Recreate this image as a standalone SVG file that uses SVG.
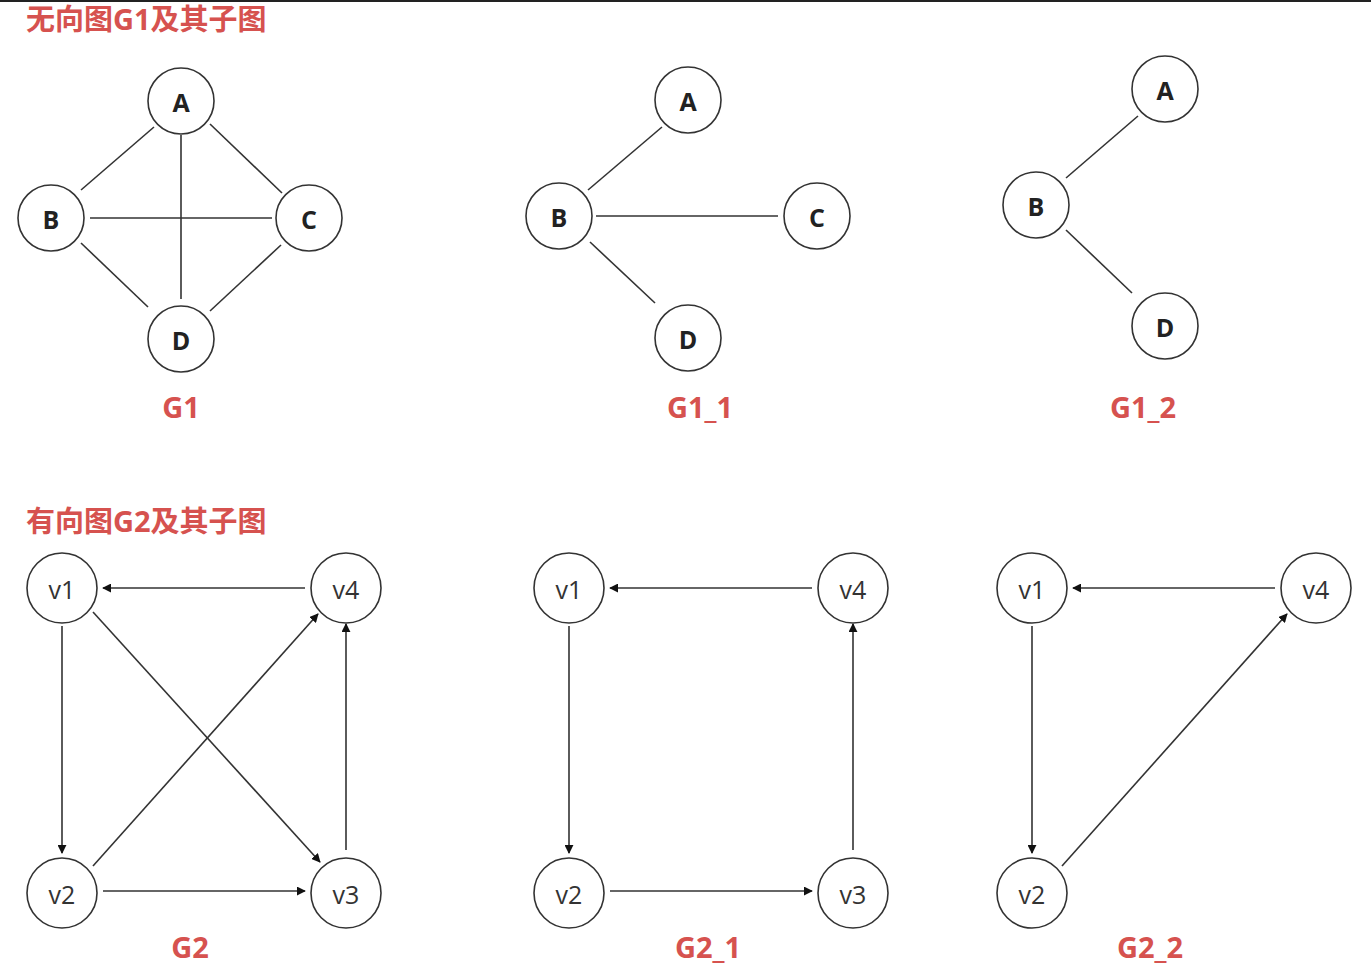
<svg xmlns="http://www.w3.org/2000/svg" width="1371" height="969" viewBox="0 0 1371 969">
<defs>
<style>
.n{fill:#fff;stroke:#333;stroke-width:1.6}
.e{stroke:#333;stroke-width:1.6;fill:none}
.a{stroke:#333;stroke-width:1.6;fill:none;marker-end:url(#ah)}
.t1{font-family:"Open Sans","Liberation Sans",sans-serif;font-weight:bold;font-size:25px;fill:#222;text-anchor:middle;dominant-baseline:central}
.t2{font-family:"Open Sans","Liberation Sans",sans-serif;font-size:25px;fill:#333;text-anchor:middle;dominant-baseline:central}
.lb{font-family:"Open Sans","Liberation Sans",sans-serif;font-weight:bold;font-size:29px;fill:#d6524f;text-anchor:middle}
.tt{font-family:"Open Sans","Noto Sans CJK SC",sans-serif;font-weight:bold;font-size:29px;fill:#d6524f}
</style>
<marker id="ah" viewBox="0 0 10 10" refX="9" refY="5" markerWidth="9" markerHeight="9" markerUnits="userSpaceOnUse" orient="auto">
<path d="M0,0 L10,5 L0,10 z" fill="#111"/>
</marker>
</defs>
<rect width="1371" height="969" fill="#fff"/>
<rect x="0" y="0" width="1371" height="2" fill="#222"/>
<text class="tt" x="26" y="30">无向图G1及其子图</text>
<text class="tt" x="26" y="532">有向图G2及其子图</text>
<g id="connectors">
<!-- G1 -->
<line class="e" x1="81" y1="190" x2="154" y2="127"/>
<line class="e" x1="210" y1="124" x2="282" y2="193"/>
<line class="e" x1="181" y1="135" x2="181" y2="299"/>
<line class="e" x1="90" y1="218" x2="272" y2="218"/>
<line class="e" x1="81" y1="243" x2="148" y2="307"/>
<line class="e" x1="281" y1="245" x2="210" y2="311"/>
<!-- G1_1 -->
<line class="e" x1="588" y1="190" x2="662" y2="127"/>
<line class="e" x1="596" y1="216" x2="778" y2="216"/>
<line class="e" x1="590" y1="242" x2="655" y2="303"/>
<!-- G1_2 -->
<line class="e" x1="1066" y1="178" x2="1138" y2="116"/>
<line class="e" x1="1066" y1="230" x2="1132" y2="293"/>
<!-- G2 -->
<line class="a" x1="305" y1="588" x2="103" y2="588"/>
<line class="a" x1="62" y1="626" x2="62" y2="853"/>
<line class="a" x1="93" y1="612" x2="320" y2="862"/>
<line class="a" x1="93" y1="866" x2="318" y2="614"/>
<line class="a" x1="103" y1="891" x2="305" y2="891"/>
<line class="a" x1="346" y1="850" x2="346" y2="624"/>
<!-- G2_1 -->
<line class="a" x1="812" y1="588" x2="610" y2="588"/>
<line class="a" x1="569" y1="626" x2="569" y2="853"/>
<line class="a" x1="610" y1="891" x2="812" y2="891"/>
<line class="a" x1="853" y1="850" x2="853" y2="624"/>
<!-- G2_2 -->
<line class="a" x1="1275" y1="588" x2="1073" y2="588"/>
<line class="a" x1="1032" y1="626" x2="1032" y2="853"/>
<line class="a" x1="1062" y1="866" x2="1287" y2="614"/>
</g>
<!-- G1 nodes -->
<g id="g1-A"><circle class="n" cx="181" cy="101" r="33"/><text class="t1" x="181" y="102">A</text></g>
<g id="g1-B"><circle class="n" cx="51" cy="218" r="33"/><text class="t1" x="51" y="219">B</text></g>
<g id="g1-C"><circle class="n" cx="309" cy="218" r="33"/><text class="t1" x="309" y="219">C</text></g>
<g id="g1-D"><circle class="n" cx="181" cy="339" r="33"/><text class="t1" x="181" y="340">D</text></g>
<!-- G1_1 nodes -->
<g id="g11-A"><circle class="n" cx="688" cy="100" r="33"/><text class="t1" x="688" y="101">A</text></g>
<g id="g11-B"><circle class="n" cx="559" cy="216" r="33"/><text class="t1" x="559" y="217">B</text></g>
<g id="g11-C"><circle class="n" cx="817" cy="216" r="33"/><text class="t1" x="817" y="217">C</text></g>
<g id="g11-D"><circle class="n" cx="688" cy="338" r="33"/><text class="t1" x="688" y="339">D</text></g>
<!-- G1_2 nodes -->
<g id="g12-A"><circle class="n" cx="1165" cy="89" r="33"/><text class="t1" x="1165" y="90">A</text></g>
<g id="g12-B"><circle class="n" cx="1036" cy="205" r="33"/><text class="t1" x="1036" y="206">B</text></g>
<g id="g12-D"><circle class="n" cx="1165" cy="326" r="33"/><text class="t1" x="1165" y="327">D</text></g>
<!-- G2 nodes -->
<g id="g2-v1"><circle class="n" cx="62" cy="588" r="35"/><text class="t2" x="62" y="589">v1</text></g>
<g id="g2-v4"><circle class="n" cx="346" cy="588" r="35"/><text class="t2" x="346" y="589">v4</text></g>
<g id="g2-v2"><circle class="n" cx="62" cy="893" r="35"/><text class="t2" x="62" y="894">v2</text></g>
<g id="g2-v3"><circle class="n" cx="346" cy="893" r="35"/><text class="t2" x="346" y="894">v3</text></g>
<!-- G2_1 nodes -->
<g id="g21-v1"><circle class="n" cx="569" cy="588" r="35"/><text class="t2" x="569" y="589">v1</text></g>
<g id="g21-v4"><circle class="n" cx="853" cy="588" r="35"/><text class="t2" x="853" y="589">v4</text></g>
<g id="g21-v2"><circle class="n" cx="569" cy="893" r="35"/><text class="t2" x="569" y="894">v2</text></g>
<g id="g21-v3"><circle class="n" cx="853" cy="893" r="35"/><text class="t2" x="853" y="894">v3</text></g>
<!-- G2_2 nodes -->
<g id="g22-v1"><circle class="n" cx="1032" cy="588" r="35"/><text class="t2" x="1032" y="589">v1</text></g>
<g id="g22-v4"><circle class="n" cx="1316" cy="588" r="35"/><text class="t2" x="1316" y="589">v4</text></g>
<g id="g22-v2"><circle class="n" cx="1032" cy="893" r="35"/><text class="t2" x="1032" y="894">v2</text></g>
<!-- labels -->
<text class="lb" x="181" y="418">G1</text>
<text class="lb" x="700" y="418">G1_1</text>
<text class="lb" x="1143" y="418">G1_2</text>
<text class="lb" x="190" y="958">G2</text>
<text class="lb" x="708" y="958">G2_1</text>
<text class="lb" x="1150" y="958">G2_2</text>
</svg>
